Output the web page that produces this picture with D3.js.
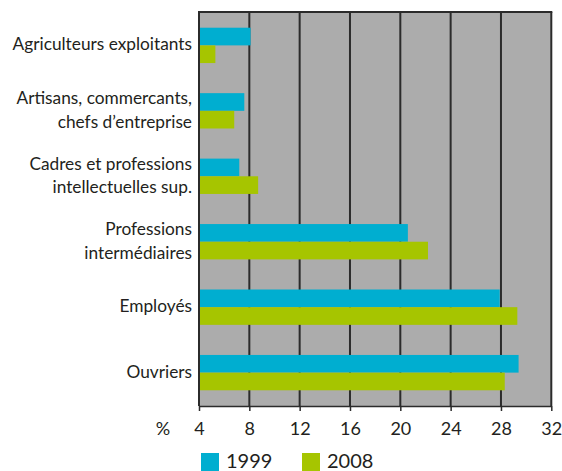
<!DOCTYPE html>
<html>
<head>
<meta charset="utf-8">
<script src="https://cdn.jsdelivr.net/npm/d3@7"></script>
<style>
  body { margin: 0; background: #fff; }
  text { font-family: Lato, "Open Sans", sans-serif; fill: #231f20; }
  .cat { font-size: 17.3px; }
  .tick text { font-size: 18px; }
  .legend-text { font-size: 20px; }
</style>
</head>
<body>
<svg width="562" height="471"></svg>
<script>
// **** data ****
var categories = [
    ['Agriculteurs exploitants'],
    ['Artisans, commercants,', 'chefs d\u2019entreprise'],
    ['Cadres et professions', 'intellectuelles sup.'],
    ['Professions', 'intermédiaires'],
    ['Employés'],
    ['Ouvriers']
];
var years = ['1999', '2008'];
var values1999 = [8.1, 7.6, 7.2, 20.6, 27.9, 29.4];
var values2008 = [5.3, 6.8, 8.7, 22.2, 29.3, 28.3];
var tickValues = [4, 8, 12, 16, 20, 24, 28, 32];

var colors = { '1999': '#00aed0', '2008': '#a6c500' };

var catKeys = categories.map(function (c) { return c.join(' '); });

// **** scales ****
var xScale = d3.scaleLinear().domain([4, 32]).range([199, 551.3]);

var yScale = d3.scaleBand().domain(catKeys)
    .range([12, 406]).paddingInner(0.46).paddingOuter(0.24);

var ySub = d3.scaleBand().domain(years).range([0, yScale.bandwidth()]);

var svg = d3.select('svg');

// plot background
svg.append('rect')
    .attr('x', xScale(4))
    .attr('y', 12)
    .attr('width', xScale(32) - xScale(4))
    .attr('height', 406 - 12)
    .style('fill', '#acacac');

// vertical grid lines
svg.append('g').selectAll('line')
    .data(tickValues).enter()
    .append('line')
    .attr('x1', function (d) { return xScale(d); })
    .attr('x2', function (d) { return xScale(d); })
    .attr('y1', 12)
    .attr('y2', 406)
    .style('stroke', '#2b2b2b')
    .style('stroke-width', 2);

// top border
svg.append('line')
    .attr('x1', xScale(4) - 1).attr('x2', xScale(32) + 1)
    .attr('y1', 12).attr('y2', 12)
    .style('stroke', '#2b2b2b')
    .style('stroke-width', 2);

// bars
var rows = catKeys.map(function (k, i) {
    return { key: k, v: { '1999': values1999[i], '2008': values2008[i] } };
});

var groups = svg.append('g').selectAll('g')
    .data(rows).enter()
    .append('g')
    .attr('transform', function (d) { return 'translate(0,' + yScale(d.key) + ')'; });

groups.selectAll('rect')
    .data(function (d) { return years.map(function (y) { return { year: y, value: d.v[y] }; }); })
    .enter()
    .append('rect')
    .attr('x', xScale(4) + 1)
    .attr('y', function (d) { return ySub(d.year); })
    .attr('width', function (d) { return xScale(d.value) - xScale(4) - 1; })
    .attr('height', ySub.bandwidth())
    .style('fill', function (d) { return colors[d.year]; });

// category labels
var labels = svg.append('g').selectAll('text')
    .data(categories).enter()
    .append('text')
    .attr('class', 'cat')
    .attr('text-anchor', 'end')
    .attr('x', 192)
    .attr('y', function (d, i) {
        var c = yScale(catKeys[i]) + yScale.bandwidth() / 2;
        return c + 5 - (d.length - 1) * 11.5;
    });

labels.each(function (d) {
    var t = d3.select(this);
    d.forEach(function (line, j) {
        t.append('tspan')
            .attr('x', 192)
            .attr('dy', j === 0 ? 0 : 23.5)
            .text(line);
    });
});

// x axis
var axis = svg.append('g').attr('class', 'x axis')
    .attr('transform', 'translate(0,406)')
    .call(d3.axisBottom(xScale).tickValues(tickValues).tickSize(5).tickPadding(11).tickSizeOuter(0));

axis.select('.domain').style('stroke', '#2b2b2b').style('stroke-width', 1.5);
axis.selectAll('.tick line').style('stroke', '#2b2b2b').style('stroke-width', 1.5);

svg.append('text')
    .attr('class', 'tick-unit')
    .attr('x', 163)
    .attr('y', 435)
    .attr('text-anchor', 'middle')
    .style('font-size', '18px')
    .text('%');

// legend
var legendX = [201, 302];
years.forEach(function (y, i) {
    svg.append('rect')
        .attr('x', legendX[i])
        .attr('y', 453)
        .attr('width', 18)
        .attr('height', 18)
        .style('fill', colors[y]);
    svg.append('text')
        .attr('class', 'legend-text')
        .attr('x', legendX[i] + 25)
        .attr('y', 468)
        .text(y);
});
</script>
</body>
</html>
